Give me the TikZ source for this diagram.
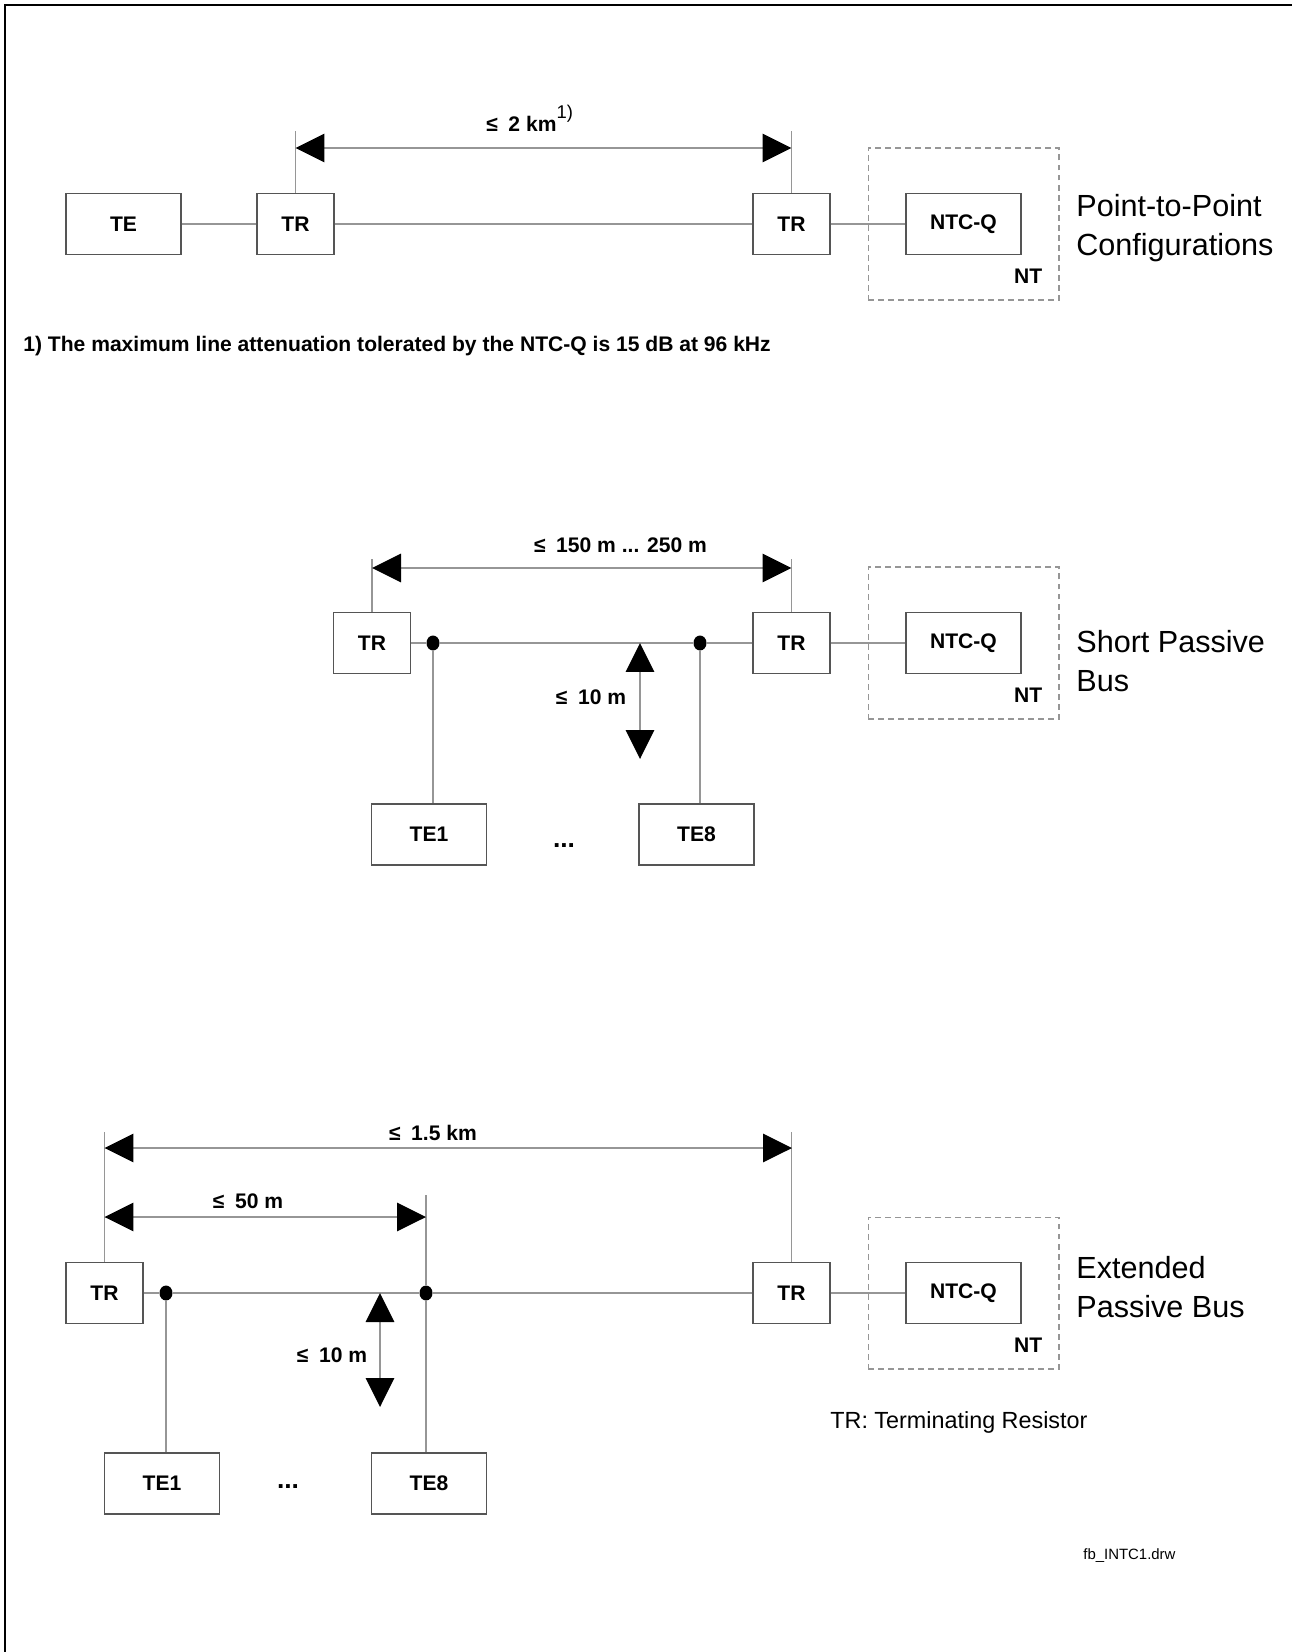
\documentclass[tikz,border=0pt]{standalone}
\usepackage{fontspec}
\setmainfont{Liberation Sans}
\usetikzlibrary{arrows.meta,positioning,shapes.geometric}
\definecolor{busGray}{RGB}{150,150,150}
\definecolor{boxGray}{RGB}{85,85,85}

\begin{document}
\begin{tikzpicture}[
  x=0.02cm, y=-0.02cm,
  box/.style={draw=boxGray, line width=0.6pt, inner sep=0pt, minimum width=1.54cm,
              minimum height=1.22cm, font=\bfseries\fontsize{12}{14}\selectfont},
  wbox/.style={box, minimum width=2.3cm},
  ntbox/.style={draw=busGray, line width=0.6pt, dash pattern=on 3.4pt off 2.3pt,
                minimum width=3.82cm, minimum height=3.04cm},
  bus/.style={draw=busGray, line width=1pt},
  ext/.style={draw=busGray, line width=0.6pt},
  dim/.style={draw=busGray, line width=0.9pt,
              >={Triangle[length=0.58cm, width=0.57cm, color=black]}, <->},
  dot/.style={ellipse, fill=black, inner sep=0pt, minimum width=0.26cm, minimum height=0.3cm},
  lbl/.style={inner sep=0pt, anchor=base, font=\bfseries\fontsize{12}{14}\selectfont},
  more/.style={inner sep=0pt, anchor=base, font=\bfseries\fontsize{15}{17}\selectfont},
  title/.style={inner sep=0pt, align=left, anchor=base west, font=\fontsize{17.4}{22.2}\selectfont},
  note/.style={inner sep=0pt, anchor=base west}
]
\useasboundingbox (0,0) rectangle (1292,1652);
\draw[line width=1.1pt] (5,1652) -- (5,5) -- (1292,5);

\foreach \r/\y in {a/224, b/643, c/1293} {
  \node[box] (trr\r) at (791.5,\y) {TR};
  \node[wbox] (ntc\r) at (963.5,\y) {NTC-Q};
  \node[ntbox] (nt\r) at (ntc\r) {};
  \node[lbl, above left=0.34cm and 0.34cm of nt\r.south east] (ntl\r) {NT};
  \draw[bus] (trr\r) -- (ntc\r);
}

\node[wbox] (te) at (123.5,224) {TE};
\node[box] (tra) at (295.5,224) {TR};
\draw[bus] (te) -- (tra);
\draw[bus] (tra) -- (trra);
\draw[ext] (tra.north) -- ++(0,-62);
\draw[ext] (trra.north) -- ++(0,-62);
\coordinate (pa1) at (295.5,148);
\coordinate (pa2) at (791.5,148);
\draw[dim] (pa1) -- (pa2);
\node[lbl, anchor=base west] (lenptp) at (486,132) {≤\enspace 2 km\raisebox{7.4pt}{\mdseries\fontsize{10.5}{12}\selectfont 1)}};
\node[title] (titleptp) at (1076,256) {Point-to-Point\\Configurations};
\node[note, font=\bfseries\fontsize{12}{14}\selectfont] (foot) at (23,352)
  {1) The maximum line attenuation tolerated by the NTC-Q is 15 dB at 96 kHz};

\node[box] (trb) at (372,643) {TR};
\node[dot] (d1) at (433,643) {};
\node[dot] (d2) at (700,643) {};
\node[wbox] (te1b) at (429,834.5) {TE1};
\node[wbox] (te8b) at (696.5,834.5) {TE8};
\draw[bus] (trb) -- (d1);
\draw[bus] (d1) -- (d2);
\draw[bus] (d2) -- (trrb);
\draw[ext] (d1) -- (d1 |- te1b.north);
\draw[ext] (d2) -- (d2 |- te8b.north);
\node[more] (dotsb) at (564,847) {...};
\draw[ext] (trb.north) -- ++(0,-53);
\draw[ext] (trrb.north) -- ++(0,-53);
\coordinate (pb1) at (372,568);
\coordinate (pb2) at (791.5,568);
\draw[dim] (pb1) -- (pb2);
\node[lbl] (lenspb) at (620.5,552) {≤\enspace 150 m ... 250 m};
\coordinate (vb1) at (640,643);
\coordinate (vb2) at (640,759);
\draw[dim] (vb1) -- (vb2);
\node[lbl] (lenstub) at (591,704) {≤\enspace 10 m};
\node[title] (titlespb) at (1076,691) {Short Passive\\Bus};

\node[box] (trc) at (104.5,1293) {TR};
\node[dot] (d3) at (166,1293) {};
\node[dot] (d4) at (426,1293) {};
\node[wbox] (te1c) at (162,1483.5) {TE1};
\node[wbox] (te8c) at (429,1483.5) {TE8};
\draw[bus] (trc) -- (d3);
\draw[bus] (d3) -- (d4);
\draw[bus] (d4) -- (trrc);
\draw[ext] (d3) -- (d3 |- te1c.north);
\draw[ext] (d4) -- (d4 |- te8c.north);
\node[more] (dotsc) at (288,1488) {...};
\draw[ext] (trc.north) -- ++(0,-130);
\draw[ext] (trrc.north) -- ++(0,-130);
\draw[ext] (d4) -- ++(0,-98);
\coordinate (pc1) at (104.5,1148);
\coordinate (pc2) at (792,1148);
\draw[dim] (pc1) -- (pc2);
\node[lbl] (lenepb) at (433,1140) {≤\enspace 1.5 km};
\coordinate (qc1) at (104.5,1217);
\coordinate (qc2) at (426,1217);
\draw[dim] (qc1) -- (qc2);
\node[lbl] (lenfirst) at (248,1208) {≤\enspace 50 m};
\coordinate (vc1) at (380,1293);
\coordinate (vc2) at (380,1407);
\draw[dim] (vc1) -- (vc2);
\node[lbl] (lenstubc) at (332,1362) {≤\enspace 10 m};
\node[title] (titleepb) at (1076,1317) {Extended\\Passive Bus};

\node[note, font=\fontsize{13.3}{15}\selectfont] (legend) at (830,1428) {TR: Terminating Resistor};
\node[note, font=\fontsize{8.5}{10}\selectfont] (fname) at (1083,1559) {fb\_INTC1.drw};
\end{tikzpicture}
\end{document}
